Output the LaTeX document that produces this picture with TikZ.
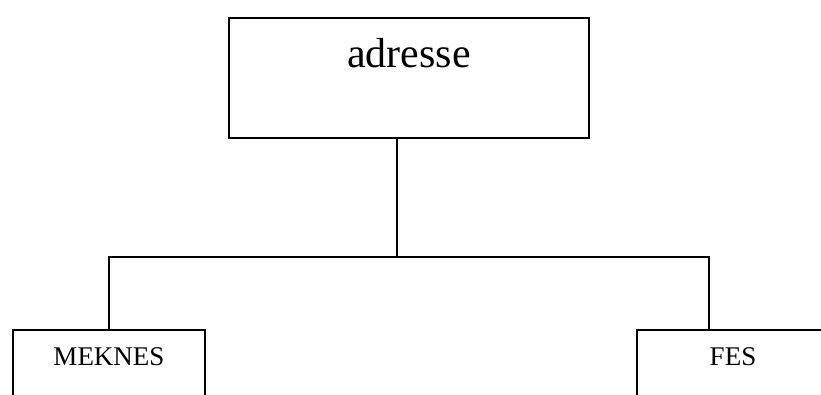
\documentclass[tikz,border=0pt]{standalone}
\usepackage{fontspec}
\setmainfont{Liberation Serif}
\usetikzlibrary{positioning,calc}
\tikzset{box/.style={draw,line width=1.7pt,inner sep=0pt,anchor=north},
 root/.style={box,minimum width=360pt,text height=50pt,text depth=70pt,font=\fontsize{42}{42}\selectfont},
 leaf/.style={box,minimum width=192pt,text height=36pt,text depth=80pt,font=\fontsize{27}{27}\selectfont},
 wire/.style={line width=1.7pt}}
\begin{document}
\begin{tikzpicture}[x=1pt,y=-1pt]
\clip (0,0) rectangle (821,394);
\node[root](adr) at (409,17){adresse};
\node[leaf](mek) at (109,329){MEKNES};\node[leaf](fes) at (733,329){FES};
\coordinate(jm) at (397,257);\coordinate(jl) at (109,257);\coordinate(jr) at (709,257);
\draw[wire](adr.south -| jm)--(jm);
\draw[wire](mek.north)--(jl)--(jr)--(jr |- fes.north);
\end{tikzpicture}
\end{document}
